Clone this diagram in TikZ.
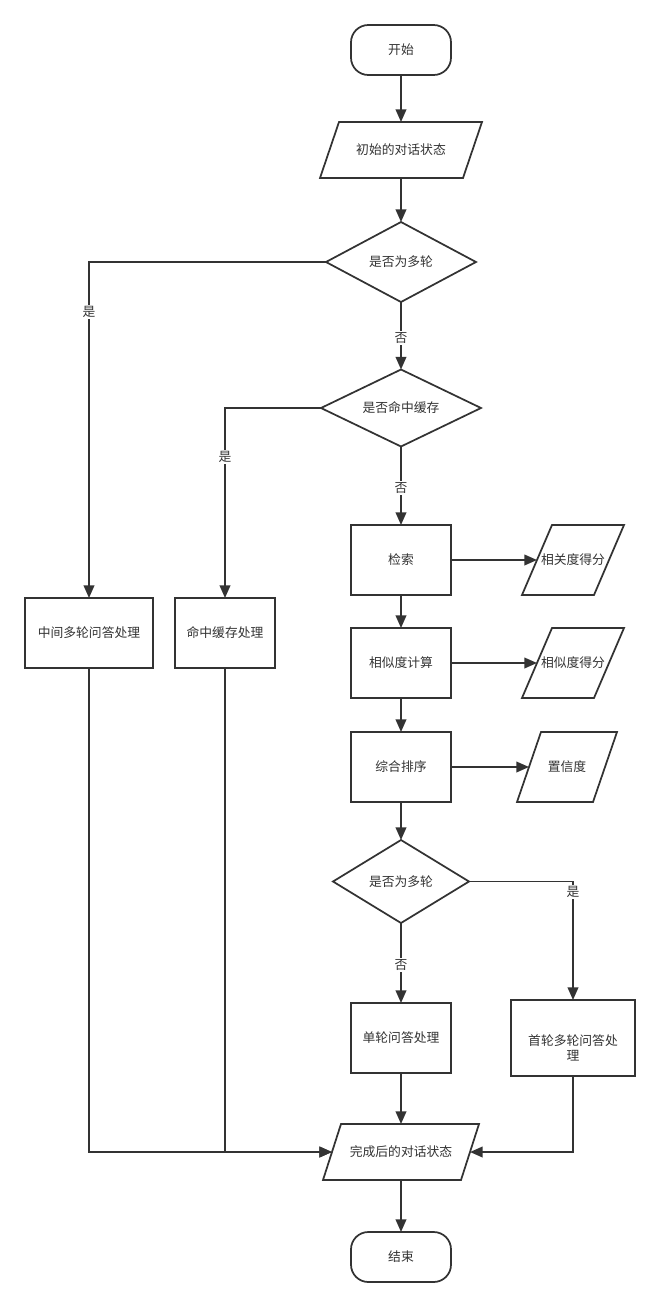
\documentclass[tikz,border=0pt]{standalone}
\usepackage{fontspec}
\setmainfont{Noto Sans CJK SC}
\usetikzlibrary{arrows.meta}
\definecolor{ink}{HTML}{333333}
\begin{document}
\begin{tikzpicture}[x=0.75pt,y=-0.75pt,
  every node/.style={font=\fontsize{9.6}{11.5}\selectfont, text=ink},
  base/.style={inner sep=0pt, outer sep=0pt, line width=1.3pt, draw=ink},
  term/.style={base, rounded corners=13pt, minimum width=75pt, minimum height=37.5pt},
  proc/.style={base, minimum width=75pt, minimum height=52.5pt},
  ghost/.style={inner sep=0pt, outer sep=0pt, draw=none},
  lbl/.style={fill=white, inner sep=1pt},
  conn/.style={line width=1.3pt, draw=ink, -{Triangle[length=9.5pt,width=8pt]}},
  plainconn/.style={line width=1.3pt, draw=ink}
]
\useasboundingbox (0,0) rectangle (660,1307);
\fill[white] (0,0) rectangle (660,1307);

% parallelogram helper
\newcommand{\para}[2]{%
  \draw[base, line join=miter] ([xshift=#2/2]#1.north west) -- ([xshift=#2/2]#1.north east)
     -- ([xshift=-#2/2]#1.south east) -- ([xshift=-#2/2]#1.south west) -- cycle;}
\newcommand{\dia}[1]{%
  \draw[base, line join=miter] (#1.north) -- (#1.east) -- (#1.south) -- (#1.west) -- cycle;}

\node[term] (start) at (401,50) {开始};

\node[ghost, minimum width=107.25pt, minimum height=42pt] (init) at (401,150) {初始的对话状态};
\para{init}{14.25pt}

\node[ghost, minimum width=112.5pt, minimum height=60pt] (d1) at (401,262) {是否为多轮};
\dia{d1}

\node[ghost, minimum width=120pt, minimum height=57.75pt] (d2) at (401,408) {是否命中缓存};
\dia{d2}

\node[proc] (search) at (401,560) {检索};
\node[ghost, minimum width=54pt, minimum height=52.5pt] (rel) at (573,560) {相关度得分};
\para{rel}{22.5pt}

\node[proc] (sim) at (401,663) {相似度计算};
\node[ghost, minimum width=54pt, minimum height=52.5pt] (simscore) at (573,663) {相似度得分};
\para{simscore}{22.5pt}

\node[proc] (rank) at (401,767) {综合排序};
\node[ghost, minimum width=57pt, minimum height=52.5pt] (conf) at (567,767) {置信度};
\para{conf}{18pt}

\node[ghost, minimum width=102pt, minimum height=62.25pt] (d3) at (401,881.5) {是否为多轮};
\dia{d3}

\node[proc] (single) at (401,1038) {单轮问答处理};
\node[proc, minimum width=93pt, minimum height=57pt] (first) at (573,1038) {};
\node[align=center, inner sep=0pt] (firsttxt) at (573,1048) {首轮多轮问答处\\理};

\node[proc, minimum width=96pt] (box1) at (89,633) {中间多轮问答处理};
\node[proc] (box2) at (225,633) {命中缓存处理};

\node[ghost, minimum width=103.5pt, minimum height=42pt] (done) at (401,1152) {完成后的对话状态};
\para{done}{13.5pt}

\node[term] (end) at (401,1257) {结束};

% connectors
\draw[conn] (start) -- (init);
\draw[conn] (init) -- (d1);
\draw[conn] (d1) -- (d2);
\draw[conn] (d1.west) -| (box1.north);
\draw[conn] (d2.west) -| (box2.north);
\draw[conn] (d2) -- (search);
\draw[conn] (search) -- (rel);
\draw[conn] (search) -- (sim);
\draw[conn] (sim) -- (simscore);
\draw[conn] (sim) -- (rank);
\draw[conn] (rank) -- (conf);
\draw[conn] (rank) -- (d3);
\draw[conn] (d3) -- (single);
\draw[conn] (d3.east) -| (first.north);
\draw[conn] (box1.south) |- (done.west);
\draw[conn] (box2.south) |- (done.west);
\draw[conn] (single) -- (done);
\draw[conn] (first.south) |- (done.east);
\draw[conn] (done) -- (end);

% labels
\node[lbl] (l1) at (401,338) {否};
\node[lbl] (l2) at (89,312) {是};
\node[lbl] (l3) at (225,457) {是};
\node[lbl] (l4) at (401,488) {否};
\node[lbl] (l5) at (401,965) {否};
\node[lbl] (l6) at (573,892) {是};
\end{tikzpicture}
\end{document}
